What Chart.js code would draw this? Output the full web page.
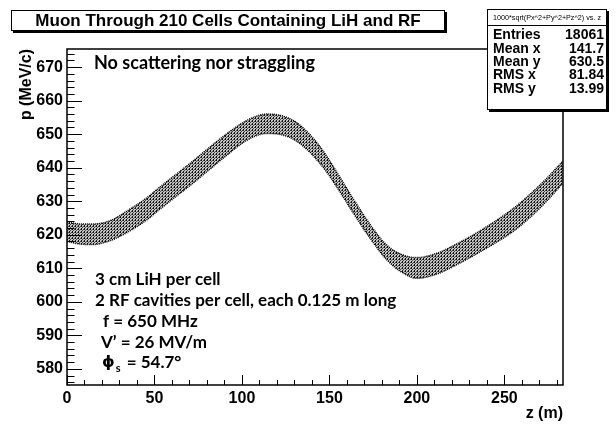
<!DOCTYPE html>
<html>
<head>
<meta charset="utf-8">
<script src="https://cdn.jsdelivr.net/npm/chart.js@4.4.0/dist/chart.umd.min.js"></script>
<style>
  html, body { margin: 0; padding: 0; background: #fff; }
</style>
</head>
<body>
<canvas id="chart" width="615" height="424"></canvas>
<script>
// band of tracks: z (m) and upper / middle / lower edge of p (MeV/c)
var zPos = [0, 8, 15, 25, 34, 45, 53, 63, 72, 82, 91, 101, 108, 114, 122, 130, 139, 145, 149, 155, 164, 174, 183, 193, 200, 212, 221, 231, 244, 255, 263, 273, 283.5];
var pTop = [623.8, 623.2, 623.2, 624.3, 627.0, 630.8, 634.2, 638.3, 642.0, 646.3, 650.0, 653.6, 655.3, 656.0, 655.6, 653.9, 649.8, 646.0, 643.0, 638.0, 630.4, 622.5, 616.8, 613.8, 613.2, 614.6, 616.8, 619.6, 623.8, 627.8, 631.3, 636.2, 642.0];
var pMid = [620.9, 620.2, 620.1, 621.3, 623.8, 627.5, 630.9, 635.0, 638.7, 643.0, 646.8, 650.6, 652.4, 653.1, 652.8, 651.1, 647.2, 643.5, 640.7, 635.8, 628.3, 620.5, 614.6, 611.1, 610.1, 611.5, 613.7, 616.5, 620.6, 624.4, 627.9, 632.8, 638.7];
var pBot = [618.0, 617.2, 617.1, 618.3, 620.6, 624.2, 627.6, 631.7, 635.4, 639.7, 643.6, 647.6, 649.5, 650.2, 649.9, 648.3, 644.5, 641.0, 638.3, 633.6, 626.2, 618.4, 612.4, 608.3, 607.0, 608.4, 610.6, 613.4, 617.3, 621.0, 624.4, 629.4, 635.4];

var xTicks = [0, 50, 100, 150, 200, 250];
var yTicks = [580, 590, 600, 610, 620, 630, 640, 650, 660, 670];

var statHeader = '1000*sqrt(Px^2+Py^2+Pz^2) vs. z';
var statNames = ['Entries', 'Mean x', 'Mean y', 'RMS x', 'RMS y'];
var statValues = ['18061', '141.7', '630.5', '81.84', '13.99'];

var titleText = 'Muon Through 210 Cells Containing LiH and RF';
var noteLines = ['3 cm LiH per cell', '2 RF cavities per cell, each 0.125 m long', 'f = 650 MHz', 'V\u2019 = 26 MV/m'];

var helv = "'Liberation Sans', Arial, sans-serif";
var noteFont = "Lato, 'Open Sans', sans-serif";

function pts(ys) {
  return zPos.map(function(z, i) { return { x: z, y: ys[i] }; });
}

// stippled fill standing in for the cloud of tracking points
function stipple() {
  var c = document.createElement('canvas');
  c.width = 3; c.height = 3;
  var g = c.getContext('2d');
  g.fillStyle = '#c2c2c2';
  g.fillRect(0, 0, 3, 3);
  g.fillStyle = '#111';
  g.fillRect(0, 0, 1, 2);
  g.fillStyle = '#4a4a4a';
  g.fillRect(2, 1, 1, 1);
  g.fillRect(1, 2, 1, 1);
  return g.createPattern(c, 'repeat');
}

var rootFrame = {
  id: 'rootFrame',
  afterDraw: function(chart) {
    var ctx = chart.ctx;
    var a = chart.chartArea;
    var xs = chart.scales.x, ys = chart.scales.y;
    ctx.save();

    // ticks, ROOT style, pointing into the frame
    ctx.strokeStyle = '#000';
    ctx.lineWidth = 1;
    ctx.beginPath();
    for (var v = 576; v <= 675; v += 2) {
      var py = Math.round(ys.getPixelForValue(v)) + 0.5;
      var len = (v % 10 === 0) ? 15 : 7.5;
      ctx.moveTo(a.left, py);
      ctx.lineTo(a.left + len, py);
    }
    for (var z = 0; z <= 283; z += 10) {
      var px = Math.round(xs.getPixelForValue(z)) + 0.5;
      var l2 = (z % 50 === 0) ? 10 : 5;
      ctx.moveTo(px, a.bottom);
      ctx.lineTo(px, a.bottom - l2);
    }
    ctx.stroke();

    // frame
    ctx.lineWidth = 1.5;
    ctx.strokeRect(a.left, a.top, a.right - a.left, a.bottom - a.top);

    // title box
    ctx.fillStyle = '#000';
    ctx.fillRect(13, 12, 434, 21);
    ctx.fillStyle = '#fff';
    ctx.fillRect(11, 10, 434, 21);
    ctx.lineWidth = 1;
    ctx.strokeRect(11.5, 10.5, 433, 20);
    ctx.fillStyle = '#000';
    ctx.font = 'bold 17px ' + helv;
    ctx.textAlign = 'center';
    ctx.textBaseline = 'middle';
    ctx.fillText(titleText, 228, 21);

    // stats box
    ctx.fillStyle = '#000';
    ctx.fillRect(489, 11, 120, 101);
    ctx.fillStyle = '#fff';
    ctx.fillRect(487, 9, 120, 101);
    ctx.strokeRect(487.5, 9.5, 119, 100);
    ctx.beginPath();
    ctx.moveTo(487, 25.5);
    ctx.lineTo(607, 25.5);
    ctx.stroke();
    ctx.fillStyle = '#000';
    ctx.font = '7.2px ' + helv;
    ctx.fillText(statHeader, 547, 18);
    ctx.font = 'bold 14px ' + helv;
    for (var i = 0; i < statNames.length; i++) {
      var ry = 35.5 + i * 13.3;
      ctx.textAlign = 'left';
      ctx.fillText(statNames[i], 493, ry);
      ctx.textAlign = 'right';
      ctx.fillText(statValues[i], 604, ry);
    }

    // notes inside the frame
    ctx.textAlign = 'left';
    ctx.font = 'bold 18px ' + noteFont;
    ctx.fillText('No scattering nor straggling', 94, 63);
    ctx.font = 'bold 17px ' + noteFont;
    var nx = [95, 95, 103, 101];
    var ny = [280, 301, 322, 343];
    for (var k = 0; k < noteLines.length; k++) {
      ctx.fillText(noteLines[k], nx[k], ny[k]);
    }
    ctx.font = "bold 16px 'DejaVu Sans', sans-serif";
    ctx.fillText('\u03d5', 102, 363);
    var w = ctx.measureText('\u03d5').width;
    ctx.font = 'bold 11px ' + noteFont;
    ctx.fillText('s', 103 + w, 368);
    var ws = ctx.measureText('s').width;
    ctx.font = 'bold 17px ' + noteFont;
    ctx.fillText(' = 54.7\u00b0', 105 + w + ws, 363);

    ctx.restore();
  }
};

var ctx = document.getElementById('chart').getContext('2d');
var myChart = new Chart(ctx, {
  type: 'line',
  data: {
    datasets: [
      {
        label: 'upper',
        data: pts(pTop),
        borderColor: '#000',
        borderWidth: 1.5,
        borderDash: [1, 1],
        pointRadius: 0,
        cubicInterpolationMode: 'monotone',
        fill: false
      },
      {
        label: 'lower',
        data: pts(pBot),
        borderColor: '#000',
        borderWidth: 1.5,
        borderDash: [1, 1],
        pointRadius: 0,
        cubicInterpolationMode: 'monotone',
        fill: '-1',
        backgroundColor: stipple()
      },
      {
        label: 'middle',
        data: pts(pMid),
        borderColor: 'rgba(255,255,255,0.5)',
        borderWidth: 1.4,
        pointRadius: 0,
        cubicInterpolationMode: 'monotone',
        fill: false
      }
    ]
  },
  options: {
    responsive: false,
    animation: false,
    layout: { padding: { left: 0, top: 49, right: 52, bottom: 0 } },
    plugins: {
      legend: { display: false },
      title: { display: false },
      tooltip: { enabled: false }
    },
    scales: {
      x: {
        type: 'linear',
        min: 0,
        max: 283.5,
        grid: { display: false, drawTicks: false },
        border: { display: false },
        afterBuildTicks: function(scale) {
          scale.ticks = xTicks.map(function(v) { return { value: v }; });
        },
        afterFit: function(scale) { scale.height = 39; },
        ticks: {
          color: '#000',
          padding: 4,
          maxRotation: 0,
          font: { family: helv, weight: 'bold', size: 16 }
        },
        title: {
          display: true,
          text: 'z (m)',
          align: 'end',
          color: '#000',
          padding: { top: 0, bottom: 1 },
          font: { family: helv, weight: 'bold', size: 16 }
        }
      },
      y: {
        type: 'linear',
        min: 575.2,
        max: 675.4,
        grid: { display: false, drawTicks: false },
        border: { display: false },
        afterBuildTicks: function(scale) {
          scale.ticks = yTicks.map(function(v) { return { value: v }; });
        },
        afterFit: function(scale) { scale.width = 67; },
        ticks: {
          color: '#000',
          padding: 4,
          font: { family: helv, weight: 'bold', size: 16 }
        },
        title: {
          display: true,
          text: 'p (MeV/c)',
          align: 'end',
          color: '#000',
          padding: { top: 17, bottom: 0 },
          font: { family: helv, weight: 'bold', size: 16 }
        }
      }
    }
  },
  plugins: [rootFrame]
});
</script>
</body>
</html>
